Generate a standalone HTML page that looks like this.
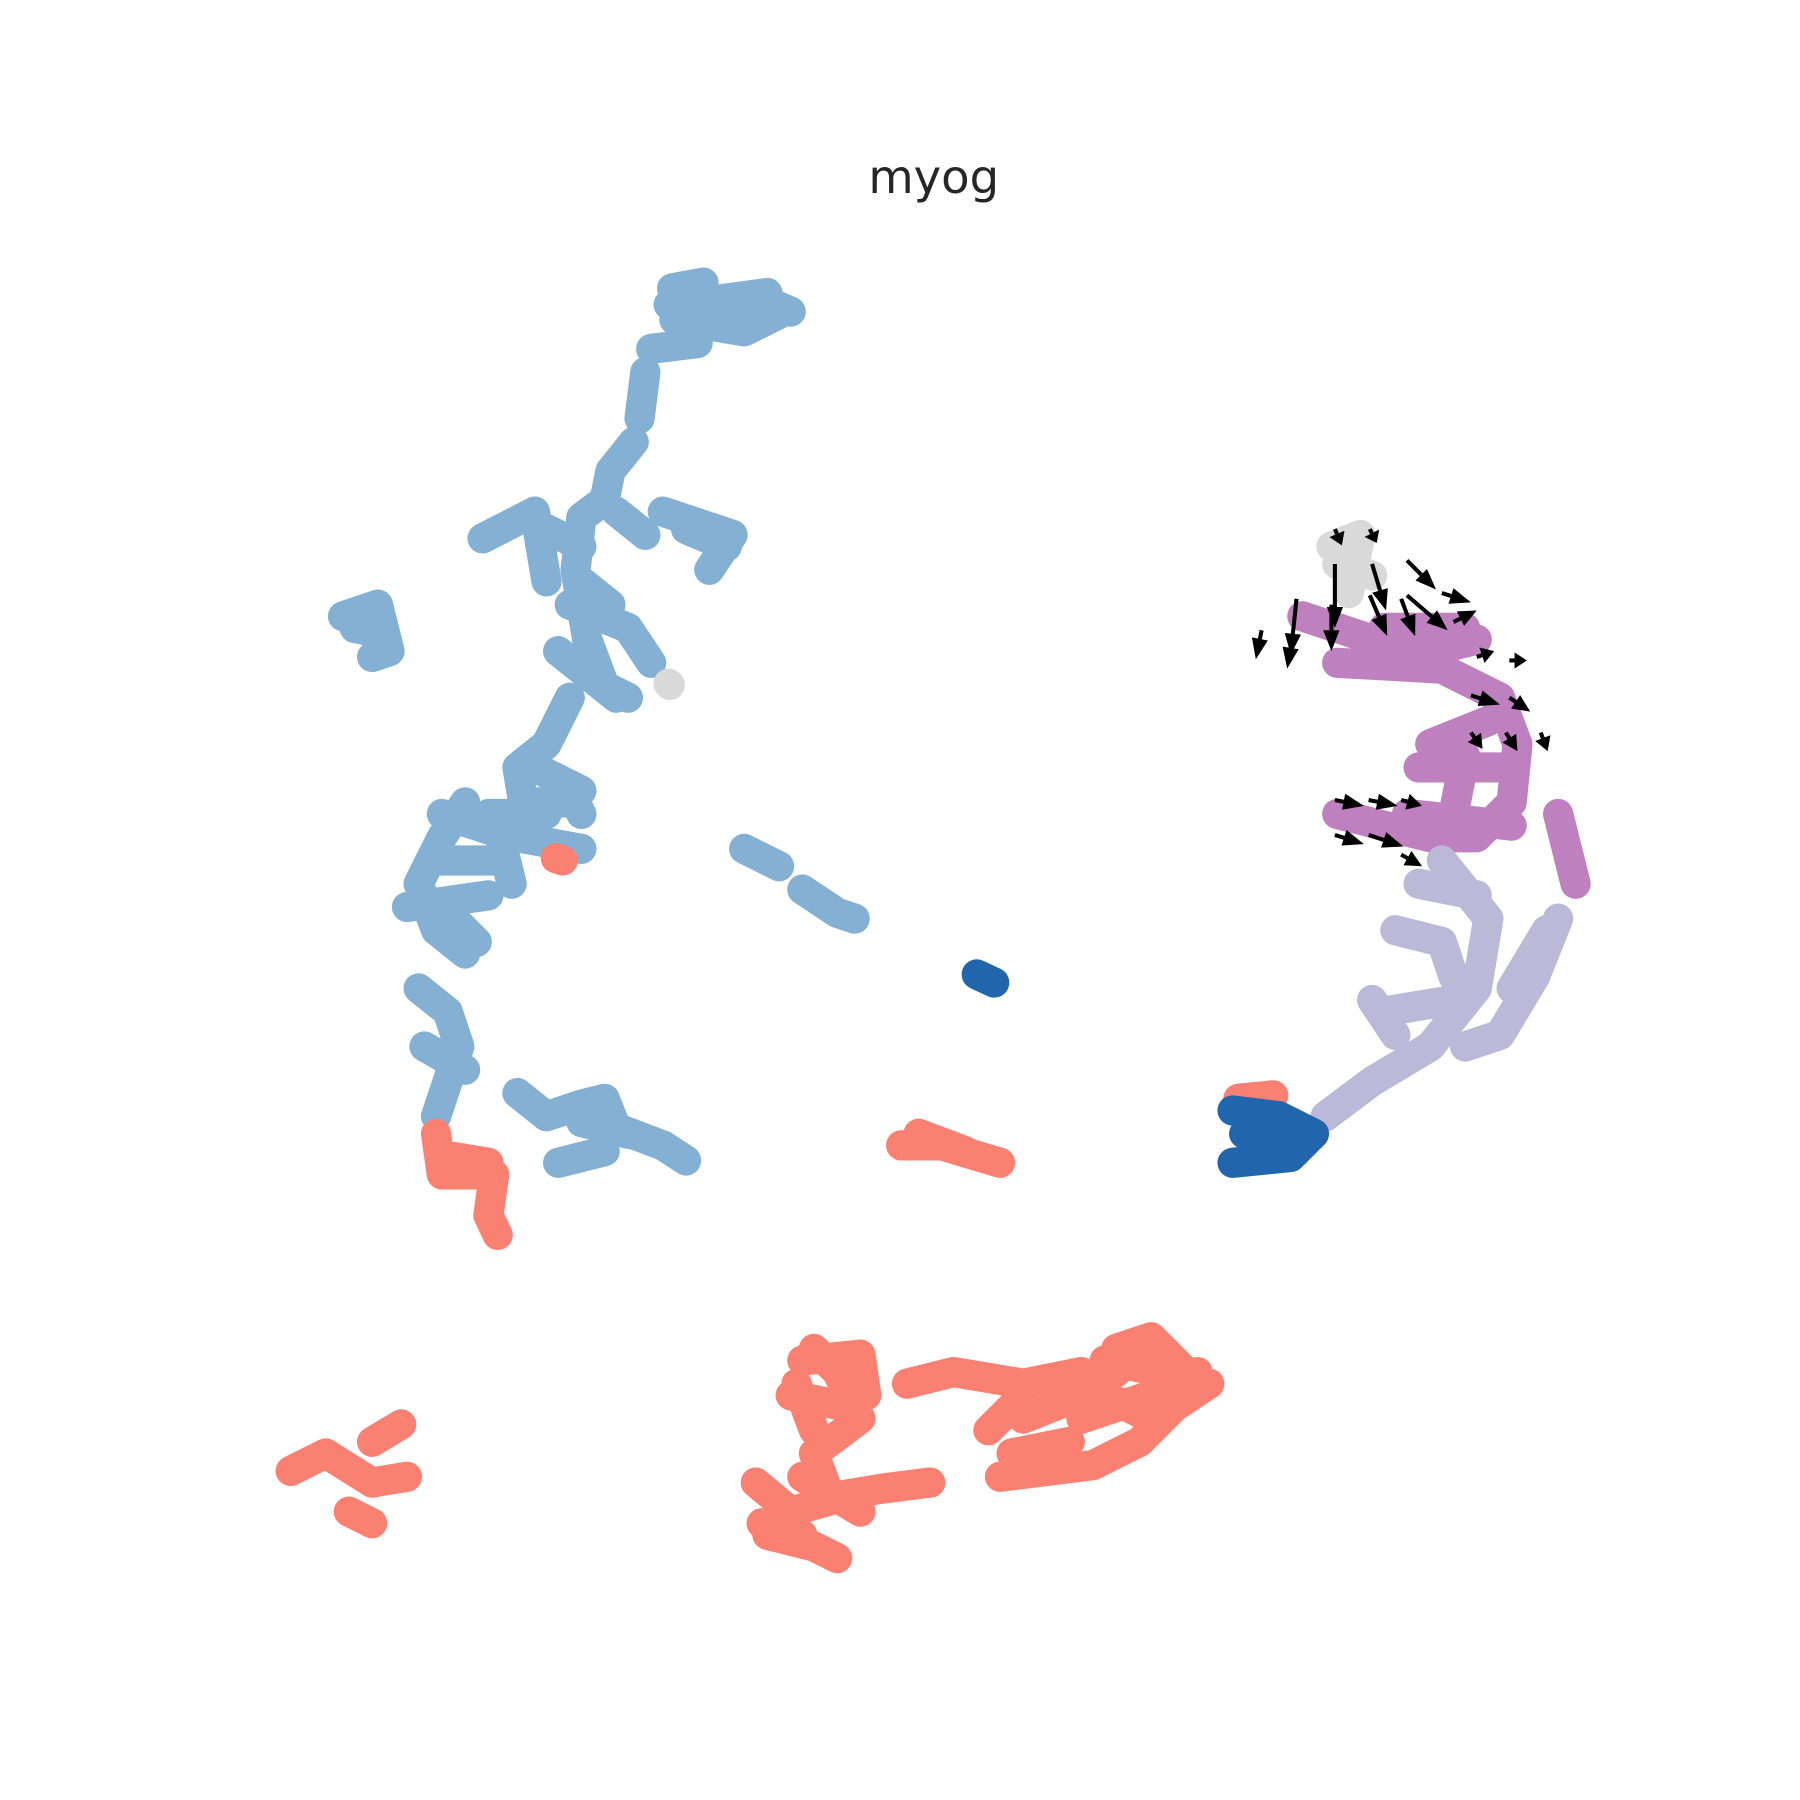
<!DOCTYPE html>
<html><head><meta charset="utf-8"><style>html,body{margin:0;padding:0;background:#fff}svg{display:block}</style></head>
<body>
<svg id="chart" width="1800" height="1800" viewBox="0 0 1548 1548" xmlns="http://www.w3.org/2000/svg">
<text x="803" y="166" text-anchor="middle" font-family="DejaVu Sans, Liberation Sans, sans-serif" font-size="40" fill="#262626">myog</text>
<g id="clusters"></g><g id="arrows"></g>
</svg>
<script>
const clusterColors = ["#84b0d3","#fa8072","#be80be","#bcb8d8","#2166ac","#d9d9d9"];
const blueTracks = [
 [[578,248],[605,243]],
 [[575,262],[620,270],[650,255],[680,268]],
 [[580,275],[640,285],[670,270]],[[600,260],[660,252]],
 [[560,300],[600,295]],
 [[555,320],[550,360]],
 [[545,380],[525,405],[520,430],[500,445],[495,490],[505,550],[520,590],[540,600]],
 [[490,520],[540,540],[560,570]],[[480,560],[530,600]],[[500,500],[525,520]],[[470,455],[500,470]],
 [[415,463],[460,440],[470,500]],
 [[530,440],[555,460]],
 [[570,440],[630,460],[610,490]],[[590,455],[625,470]],
 [[490,600],[470,640],[445,660],[450,690],[495,690],[500,700]],
 [[460,660],[500,680]],[[420,700],[470,700]],[[445,720],[500,730]],
 [[400,690],[380,720],[360,760],[375,800],[400,820]],
 [[370,740],[430,740]],[[350,780],[420,770]],[[380,700],[440,720]],[[390,790],[410,810]],
 [[430,720],[440,760]],
 [[360,850],[385,870],[395,900],[385,930],[375,960]],[[365,900],[400,920]],
 [[295,530],[325,520],[335,560],[320,565]],[[305,540],[330,545]],
 [[445,940],[470,960],[500,950],[520,945],[530,970],[570,985],[590,998]],
 [[480,1000],[520,990]],[[500,965],[540,975]],
 [[640,730],[670,745]],
 [[690,765],[720,785],[735,790]]
];
const redTracks = [
 [[375,975],[380,1010],[425,1010],[420,1045],[428,1062]],[[390,995],[420,1000]],
 [[478,738],[484,740]],
 [[775,985],[810,985],[860,1000]],[[790,975],[830,990]],
 [[250,1265],[280,1250],[320,1275],[350,1270]],
 [[300,1300],[320,1310]],[[320,1240],[345,1225]],
 [[700,1160],[720,1180],[740,1220],[700,1250],[715,1290],[680,1300],[650,1275]],
 [[690,1170],[740,1165],[745,1200]],[[680,1200],[730,1210]],[[690,1270],[740,1300]],[[655,1310],[690,1320]],
 [[700,1290],[760,1280],[800,1275]],
 [[660,1320],[700,1330],[720,1340]],
 [[685,1190],[700,1230]],
 [[780,1190],[820,1180],[880,1190],[930,1180]],
 [[860,1270],[940,1260],[980,1240],[1010,1210],[1040,1190]],
 [[960,1160],[990,1150],[1020,1180]],
 [[880,1220],[930,1200],[960,1180]],
 [[950,1200],[990,1220]],
 [[930,1220],[990,1200],[1030,1180]],[[950,1170],[1000,1180]],[[870,1250],[920,1240]],[[850,1230],[880,1200]],
 [[1065,945],[1095,942]]
];
const purpleTracks = [
 [[1120,530],[1180,550],[1230,560],[1270,550]],[[1190,540],[1260,540]],
 [[1150,570],[1240,575],[1290,600],[1305,640],[1300,690],[1270,720],[1230,720],[1150,700]],
 [[1260,650],[1250,700]],
 [[1220,660],[1300,660]],[[1210,700],[1300,710]],[[1230,640],[1280,620]],
 [[1340,700],[1355,760]]
];
const lavenderTracks = [
 [[1240,740],[1280,790],[1270,850],[1230,900],[1180,930],[1140,960]],
 [[1200,800],[1240,810],[1250,840]],
 [[1180,860],[1200,890]],
 [[1190,870],[1250,860]],[[1220,760],[1270,770]],[[1300,850],[1330,800]],
 [[1340,790],[1320,840],[1290,890],[1260,900]]
];
const darkBlueTracks = [
 [[1060,955],[1100,960],[1130,975],[1110,995],[1060,1000]],[[1070,975],[1120,980]],
 [[840,838],[855,845]]
];
const greyTracks = [[[1145,470],[1170,460],[1160,510]],[[1150,485],[1180,495]],[[575,588],[576,589]]];
const arrowStarts = [[1148,455],[1178,455],[1148,485],[1180,485],[1210,482],[1210,512],[1240,510],[1115,515],[1145,520],[1085,542],[1112,545],[1250,535],[1270,565],[1298,568],[1265,598],[1298,600],[1265,630],[1295,630],[1325,630],[1148,688],[1177,688],[1205,688],[1148,718],[1177,718],[1205,735],[1205,515],[1178,512]];
const arrowVecs = [[6,14],[6,12],[0,55],[12,40],[25,25],[35,30],[25,8],[-5,48],[0,40],[-5,25],[-5,30],[20,-10],[15,-5],[15,0],[25,8],[18,12],[10,14],[10,16],[6,16],[25,5],[25,5],[18,5],[25,8],[30,10],[18,10],[12,32],[15,35]];

const NS='http://www.w3.org/2000/svg';
const gC=document.getElementById('clusters');
function drawTracks(tracks,color,name){
 tracks.forEach(t=>{
  const p=document.createElementNS(NS,'polyline');
  p.setAttribute('points',t.map(q=>q.join(',')).join(' '));
  p.setAttribute('fill','none');p.setAttribute('stroke',color);
  p.setAttribute('stroke-width','26');p.setAttribute('stroke-linecap','round');p.setAttribute('stroke-linejoin','round');
  
  
  gC.appendChild(p);
 });
}
drawTracks(blueTracks,clusterColors[0],'blue-cluster');
drawTracks(redTracks,clusterColors[1],'salmon-cluster');
drawTracks(greyTracks,clusterColors[5],'grey-cluster');
drawTracks(purpleTracks,clusterColors[2],'purple-cluster');
drawTracks(lavenderTracks,clusterColors[3],'lavender-cluster');
drawTracks(darkBlueTracks,clusterColors[4],'dark-blue-cluster');
const gA=document.getElementById('arrows');
arrowStarts.forEach((s,i)=>{
 const v=arrowVecs[i];const L=Math.hypot(v[0],v[1]);const ux=v[0]/L,uy=v[1]/L;
 const ex=s[0]+v[0],ey=s[1]+v[1];const h=Math.min(18,L*0.7),w=7;
 const bx=ex-ux*h,by=ey-uy*h;
 const l=document.createElementNS(NS,'line');
 l.setAttribute('x1',s[0]);l.setAttribute('y1',s[1]);l.setAttribute('x2',bx);l.setAttribute('y2',by);
 l.setAttribute('stroke','#000');l.setAttribute('stroke-width','3.5');
 
 
 gA.appendChild(l);
 const p=document.createElementNS(NS,'polygon');
 p.setAttribute('points',`${ex},${ey} ${bx-uy*w},${by+ux*w} ${bx+uy*w},${by-ux*w}`);
 p.setAttribute('fill','#000');
 
 
 gA.appendChild(p);
});
</script>
</body></html>
